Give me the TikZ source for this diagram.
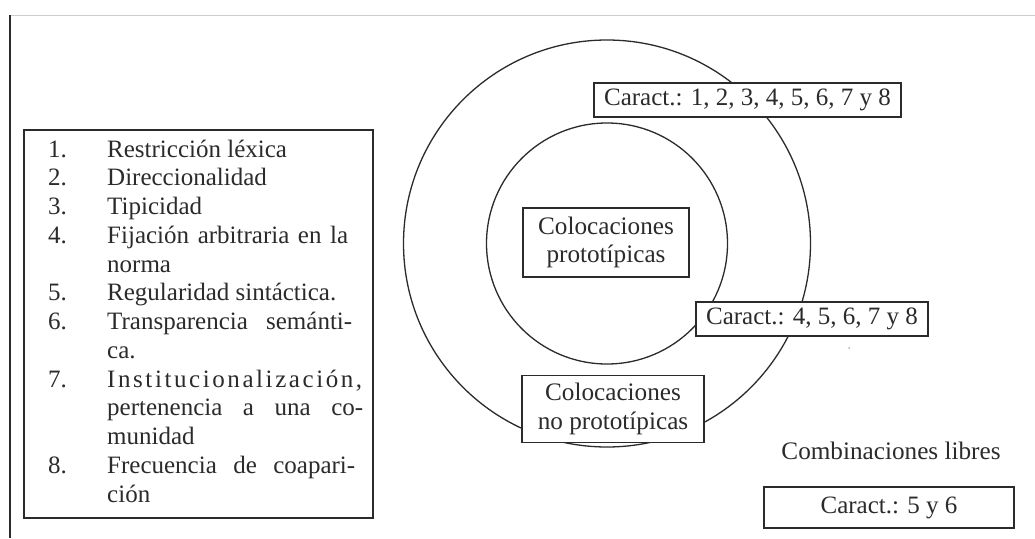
\documentclass[tikz,border=0pt]{standalone}
\usepackage{fontspec}
\setmainfont{Liberation Serif}
\definecolor{ink}{HTML}{2B2B2B}
\tikzset{
 every node/.style={text=ink},
 boxnode/.style={draw=ink, line width=1.4pt, fill=white, inner sep=0pt, align=center},
 ring/.style={draw=ink, line width=1.3pt, circle, inner sep=0pt},
 listtxt/.style={anchor=base west, inner sep=0pt, font=\fontsize{25}{28}\selectfont},
 wordfont/.style={font=\fontsize{25.2}{28.5}\selectfont},
 numfont/.style={font=\fontsize{25}{28}\selectfont},
}
\begin{document}
\begin{tikzpicture}[x=1pt,y=-1pt]
\useasboundingbox (0,0) rectangle (1035,538);
\fill[white] (0,0) rectangle (1035,538);
\coordinate (fTL) at (10,15);
\coordinate (fTR) at (1035,15);
\coordinate (fBL) at (10,538);
\draw[gray!40, line width=1pt] (fTL) -- (fTR);
\draw[ink, line width=1.6pt] (fTL) -- (fBL);

% rings
\node[ring, minimum size=407pt] (outer) at (607,243.5) {};
\node[ring, minimum size=241pt] (inner) at (607,243.5) {};

% boxes
\node[boxnode, wordfont, minimum width=166pt, minimum height=69pt] (proto) at (606,242.5) {Colocaciones\\prototípicas};
\node[boxnode, wordfont, minimum width=182pt, minimum height=67pt] (noproto) at (613,409) {Colocaciones\\no prototípicas};
\node[boxnode, numfont, minimum width=307pt, minimum height=34pt] (c18) at (747.5,100) {Caract.: 1, 2, 3, 4, 5, 6, 7 y 8};
\node[boxnode, numfont, minimum width=232pt, minimum height=34pt] (c48) at (812,319) {Caract.: 4, 5, 6, 7 y 8};
\node[wordfont, inner sep=0pt] (libres) at (891,451) {Combinaciones libres};
\node[boxnode, numfont, minimum width=250pt, minimum height=41pt] (c56) at (889,507.5) {Caract.: 5 y 6};
\fill[gray!60] (849,348) circle (1pt);

% legend
\node[boxnode, minimum width=349pt, minimum height=388pt] (legend) at (198.5,324) {};
\node[listtxt] (n1) at (48,157) {1.};
\node[listtxt] (n2) at (48,185.75) {2.};
\node[listtxt] (n3) at (48,214.5) {3.};
\node[listtxt] (n4) at (48,243.25) {4.};
\node[listtxt] (n5) at (48,300.75) {5.};
\node[listtxt] (n6) at (48,329.5) {6.};
\node[listtxt] (n7) at (48,387) {7.};
\node[listtxt] (n8) at (48,473.25) {8.};

\node[listtxt] (t1) at (107,157) {Restricción léxica};
\node[listtxt] (t2) at (107,185.75) {Direccionalidad};
\node[listtxt] (t3) at (107,214.5) {Tipicidad};
\node[listtxt] (t4) at (107,243.25) {\makebox[241pt][s]{Fijación arbitraria en la}};
\node[listtxt] (t5) at (107,272) {norma};
\node[listtxt] (t6) at (107,300.75) {Regularidad sintáctica.};
\node[listtxt] (t7) at (107,329.5) {\makebox[245pt][s]{Transparencia semánti-}};
\node[listtxt] (t8) at (107,358.25) {ca.};
\node[listtxt] (t9) at (107,387) {\makebox[255pt][s]{I\hfil n\hfil s\hfil t\hfil i\hfil t\hfil u\hfil c\hfil i\hfil o\hfil n\hfil a\hfil l\hfil i\hfil z\hfil a\hfil c\hfil i\hfil ó\hfil n\hfil ,}};
\node[listtxt] (t10) at (107,415.75) {\makebox[256pt][s]{pertenencia a una co-}};
\node[listtxt] (t11) at (107,444.5) {munidad};
\node[listtxt] (t12) at (107,473.25) {\makebox[248pt][s]{Frecuencia de coapari-}};
\node[listtxt] (t13) at (107,502) {ción};
\end{tikzpicture}
\end{document}
